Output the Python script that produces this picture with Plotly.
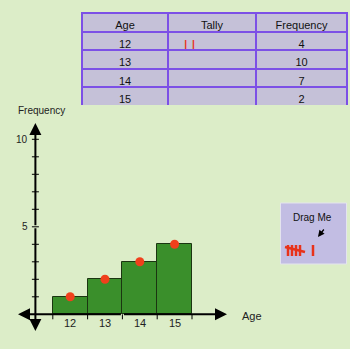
import plotly.graph_objects as go

# ---- data ----
ages = [12, 13, 14, 15]
age_labels = ["12", "13", "14", "15"]
tally = ["\u00a0\u00a0I\u00a0I", "", "", ""]
frequency = [4, 10, 7, 2]
bar_heights = [1, 2, 3, 4]
y_tick_vals = [5, 10]
y_tick_labels = ["5", "10"]
table_header = ["Age", "Tally", "Frequency"]

W, H = 350, 349
BG = "#dcedc8"
FONT = "Liberation Sans, Arial, sans-serif"

# pixel -> data helpers (layout geometry)
def px2x(p):
    return 12 + (p - 70.2) / 34.8

def py2y(p):
    return (314.3 - p) / 17.5

def pxp(p):
    return p / W

def pyp(p):
    return 1 - p / H

fig = go.Figure()

# bars
fig.add_trace(go.Bar(
    x=ages, y=bar_heights, width=1,
    marker=dict(color="#3a8f2b", line=dict(color="#1b3511", width=1)),
    hoverinfo="skip", showlegend=False,
))
# red drag dots
fig.add_trace(go.Scatter(
    x=ages, y=bar_heights, mode="markers",
    marker=dict(color="#f0401c", size=9, line=dict(width=0)),
    hoverinfo="skip", showlegend=False,
))

# table
fig.add_trace(go.Table(
    domain=dict(x=[pxp(82), pxp(347)], y=[pyp(105), pyp(13)]),
    columnwidth=[86, 88, 91],
    header=dict(values=table_header, height=18.5,
                fill_color="#c5c1d8", line=dict(color="#7c50e6", width=2),
                font=dict(family=FONT, size=11, color="#111"), align="center"),
    cells=dict(values=[[str(a) for a in ages], tally, [str(f) for f in frequency]],
               height=18.5,
               fill_color="#c5c1d8", line=dict(color="#7c50e6", width=2),
               font=dict(family=FONT, size=[11, 14, 11], color=["#111", "#e8321a", "#111"]),
               align=["center", "left", "center"]),
))

X_AXIS_POS = 11
X_LEFT, X_RIGHT = px2x(18), px2x(227)
Y_TOP, Y_BOTTOM = py2y(123), py2y(331)

annotations = []
arrow_common = dict(text="", showarrow=True, arrowhead=2, arrowsize=1.2, arrowwidth=2,
                    arrowcolor="black", axref="x", ayref="y", xref="x", yref="y",
                    standoff=0, startstandoff=0)
# x axis (double headed)
annotations.append(dict(x=X_RIGHT, y=0, ax=13.5, ay=0, **arrow_common))
annotations.append(dict(x=X_LEFT, y=0, ax=13.5, ay=0, **arrow_common))
# y axis (double headed)
annotations.append(dict(x=X_AXIS_POS, y=Y_TOP, ax=X_AXIS_POS, ay=5, **arrow_common))
annotations.append(dict(x=X_AXIS_POS, y=Y_BOTTOM, ax=X_AXIS_POS, ay=5, **arrow_common))

shapes = []
# y ticks
for v in range(1, 11):
    shapes.append(dict(type="line", xref="x", yref="y", xsizemode="pixel", xanchor=X_AXIS_POS,
                       x0=-3.5, x1=3.5, y0=v, y1=v, line=dict(color="black", width=1)))
# x ticks at bar edges
for a in ages + [ages[-1] + 1]:
    shapes.append(dict(type="line", xref="x", yref="y", ysizemode="pixel", yanchor=0,
                       x0=a - 0.5, x1=a - 0.5, y0=0, y1=-5, line=dict(color="black", width=1)))

# tick labels
for a, lab in zip(ages, age_labels):
    annotations.append(dict(x=a, y=0, xref="x", yref="y", text=lab, showarrow=False,
                            yanchor="top", yshift=-1,
                            font=dict(family=FONT, size=11, color="#222")))
for v, lab in zip(y_tick_vals, y_tick_labels):
    annotations.append(dict(x=X_AXIS_POS, y=v, xref="x", yref="y", text=lab, showarrow=False,
                            xanchor="right", xshift=-5,
                            font=dict(family=FONT, size=10, color="#222")))
# axis titles
annotations.append(dict(x=pxp(41), y=pyp(110), xref="paper", yref="paper", text="Frequency",
                        xanchor="center", yanchor="middle",
                        showarrow=False, font=dict(family=FONT, size=10, color="#222")))
annotations.append(dict(x=pxp(252), y=pyp(316), xref="paper", yref="paper", text="Age",
                        xanchor="center", yanchor="middle",
                        showarrow=False, font=dict(family=FONT, size=11, color="#222")))

# Drag Me box
shapes.append(dict(type="rect", xref="paper", yref="paper", x0=pxp(280.5), x1=pxp(346.5),
                   y0=pyp(264), y1=pyp(203), fillcolor="#c2bde3",
                   line=dict(color="#e4e4ee", width=1)))
annotations.append(dict(x=pxp(312), y=pyp(217), xref="paper", yref="paper", text="Drag Me",
                        xanchor="center", yanchor="middle",
                        showarrow=False, font=dict(family=FONT, size=10, color="#111")))
annotations.append(dict(x=pxp(318), y=pyp(237), xref="paper", yref="paper",
                        ax=7, ay=-9, text="", showarrow=True, arrowhead=2,
                        arrowsize=1, arrowwidth=1.3, arrowcolor="black"))
# red tally in the box (five-bar gate + one)
red = "#e8321a"
for xp in [288, 292, 296, 300]:
    shapes.append(dict(type="line", xref="paper", yref="paper", x0=pxp(xp), x1=pxp(xp),
                       y0=pyp(245), y1=pyp(256), line=dict(color=red, width=2.5)))
shapes.append(dict(type="line", xref="paper", yref="paper", x0=pxp(285), x1=pxp(305),
                   y0=pyp(247), y1=pyp(252), line=dict(color=red, width=2.5)))
shapes.append(dict(type="line", xref="paper", yref="paper", x0=pxp(313), x1=pxp(313),
                   y0=pyp(245), y1=pyp(256), line=dict(color=red, width=2.5)))

fig.update_layout(
    width=W, height=H, margin=dict(l=0, r=0, t=0, b=0),
    paper_bgcolor=BG, plot_bgcolor=BG,
    xaxis=dict(range=[px2x(0), px2x(W)], visible=False, fixedrange=True),
    yaxis=dict(range=[py2y(H), py2y(0)], visible=False, fixedrange=True),
    shapes=shapes, annotations=annotations, bargap=0,
)

fig.write_html("out.html")
